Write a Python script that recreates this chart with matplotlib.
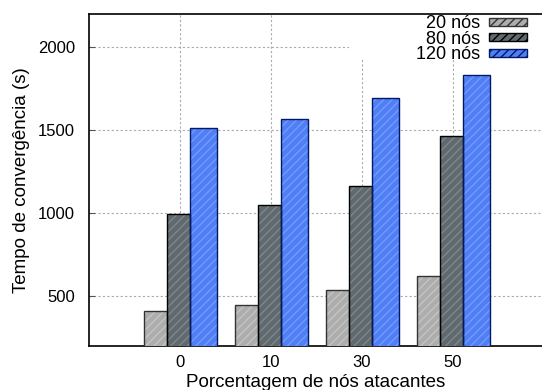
import matplotlib
matplotlib.use("Agg")
import matplotlib.pyplot as plt
from matplotlib.patches import Rectangle, Patch
import numpy as np

categories = ["0", "10", "30", "50"]
series_names = ["20 nós", "80 nós", "120 nós"]
v20 = [412, 450, 538, 620]
v80 = [994, 1048, 1165, 1468]
v120 = [1512, 1565, 1691, 1832]

plt.rcParams['font.family'] = ['Liberation Sans', 'DejaVu Sans']
plt.rcParams['hatch.linewidth'] = 1.0

FS = 13.5
TFS = 12
fig = plt.figure(figsize=(5.42, 3.90), dpi=100)
ax = fig.add_axes([89/542, 1-346/390, 1-89/542, (346-14)/390])

x = np.arange(len(categories))
styles = [
    dict(face="#adadad", hatch_c="#c4c4c4", edge="#333333", left=-0.395, width=0.25),
    dict(face="#606a6e", hatch_c="#7e888c", edge="#000000", left=-0.145, width=0.25),
    dict(face="#4f7ef5", hatch_c="#739bff", edge="#001a66", left=0.105, width=0.30),
]
data = [v20, v80, v120]
handles = []
for vals, st, name in zip(data, styles, series_names):
    ax.bar(x + st["left"], vals, width=st["width"], align="edge",
           color=st["face"], edgecolor=st["hatch_c"], hatch="////",
           linewidth=0, zorder=3)
    ax.bar(x + st["left"], vals, width=st["width"], align="edge",
           fill=False, edgecolor=st["edge"], linewidth=1.0, zorder=4)
    handles.append(Patch(facecolor=st["face"], edgecolor=st["edge"],
                         hatch="////", linewidth=1.0))

ax.set_xlim(-1, (542-180)/91)
ax.set_ylim(200, 2200)
ax.set_xticks(x)
ax.set_xticklabels(categories)
ax.set_yticks([500, 1000, 1500, 2000])
ax.tick_params(axis='both', direction='in', labelsize=TFS, length=4, width=0.8, color="#555555")
ax.tick_params(axis='y', pad=10)
ax.tick_params(axis='x', pad=6.5)
ax.grid(True, color="#aaaaaa", linestyle=(0, (2, 2)), linewidth=0.8, zorder=0)
ax.set_axisbelow(True)
ax.spines['right'].set_visible(False)
for s in ['left', 'top', 'bottom']:
    ax.spines[s].set_linewidth(1.2)

ax.set_xlabel("Porcentagem de nós atacantes", fontsize=FS, labelpad=3)
ax.set_ylabel("Tempo de convergência (s)", fontsize=FS, labelpad=6)

# white key background (covers grid)
ax.add_patch(Rectangle(((349-89)/453, (346-60)/332), 1, 1, transform=ax.transAxes,
                       facecolor="white", edgecolor="none", zorder=1))

leg = ax.legend(handles, series_names, loc="upper right", bbox_to_anchor=(1-8/453, 1.0 + 6/332),
                frameon=False, markerfirst=False, fontsize=13, handlelength=2.1,
                handleheight=0.33, labelspacing=-0.08, handletextpad=0.5,
                borderaxespad=0.0)
for t in leg.get_texts():
    t.set_ha("right")

fig.savefig("out.png", dpi=100)
